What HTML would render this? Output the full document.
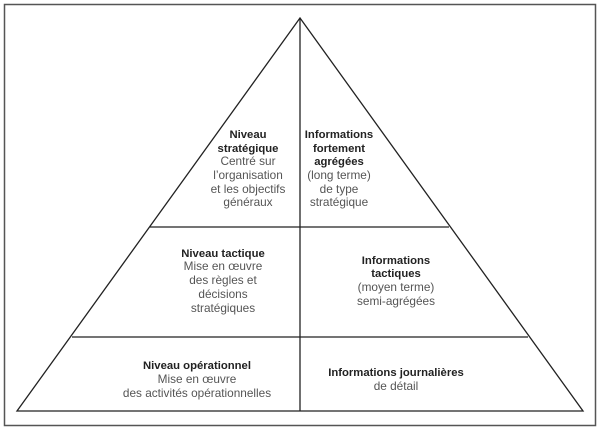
<!DOCTYPE html>
<html><head><meta charset="utf-8"><style>
html,body{margin:0;padding:0;background:#fff;width:600px;height:430px;overflow:hidden}
text{font-family:"Liberation Sans",sans-serif;font-size:11.8px;text-anchor:middle}
.b{fill:#222;font-weight:bold;font-size:11.3px}
.n{fill:#555}
</style></head><body>
<svg width="600" height="430" viewBox="0 0 600 430" xmlns="http://www.w3.org/2000/svg">
<rect x="4.5" y="4.5" width="591" height="421" fill="none" stroke="#555" stroke-width="1.5"/>
<polygon points="300,18 17,411 583,411" fill="none" stroke="#222" stroke-width="1.3"/>
<line x1="300" y1="18" x2="300" y2="411" stroke="#222" stroke-width="1.3"/>
<line x1="150" y1="227" x2="449" y2="227" stroke="#222" stroke-width="1.3"/>
<line x1="72" y1="337" x2="528" y2="337" stroke="#222" stroke-width="1.3"/>
<g>
<text class="b" x="248" y="138">Niveau</text>
<text class="b" x="248" y="152">stratégique</text>
<text class="n" x="248" y="165">Centré sur</text>
<text class="n" x="248" y="179">l’organisation</text>
<text class="n" x="248" y="193">et les objectifs</text>
<text class="n" x="248" y="206">généraux</text>

<text class="b" x="339" y="138">Informations</text>
<text class="b" x="339" y="152">fortement</text>
<text class="b" x="339" y="165">agrégées</text>
<text class="n" x="339" y="179">(long terme)</text>
<text class="n" x="339" y="193">de type</text>
<text class="n" x="339" y="206">stratégique</text>

<text class="b" x="223" y="257">Niveau tactique</text>
<text class="n" x="223" y="270">Mise en œuvre</text>
<text class="n" x="223" y="284">des règles et</text>
<text class="n" x="223" y="298">décisions</text>
<text class="n" x="223" y="312">stratégiques</text>

<text class="b" x="396" y="264">Informations</text>
<text class="b" x="396" y="277">tactiques</text>
<text class="n" x="396" y="291">(moyen terme)</text>
<text class="n" x="396" y="305">semi-agrégées</text>

<text class="b" x="197" y="369">Niveau opérationnel</text>
<text class="n" x="197" y="383">Mise en œuvre</text>
<text class="n" x="197" y="397">des activités opérationnelles</text>

<text class="b" x="396" y="376">Informations journalières</text>
<text class="n" x="396" y="390">de détail</text>
</g>
</svg>
</body></html>
